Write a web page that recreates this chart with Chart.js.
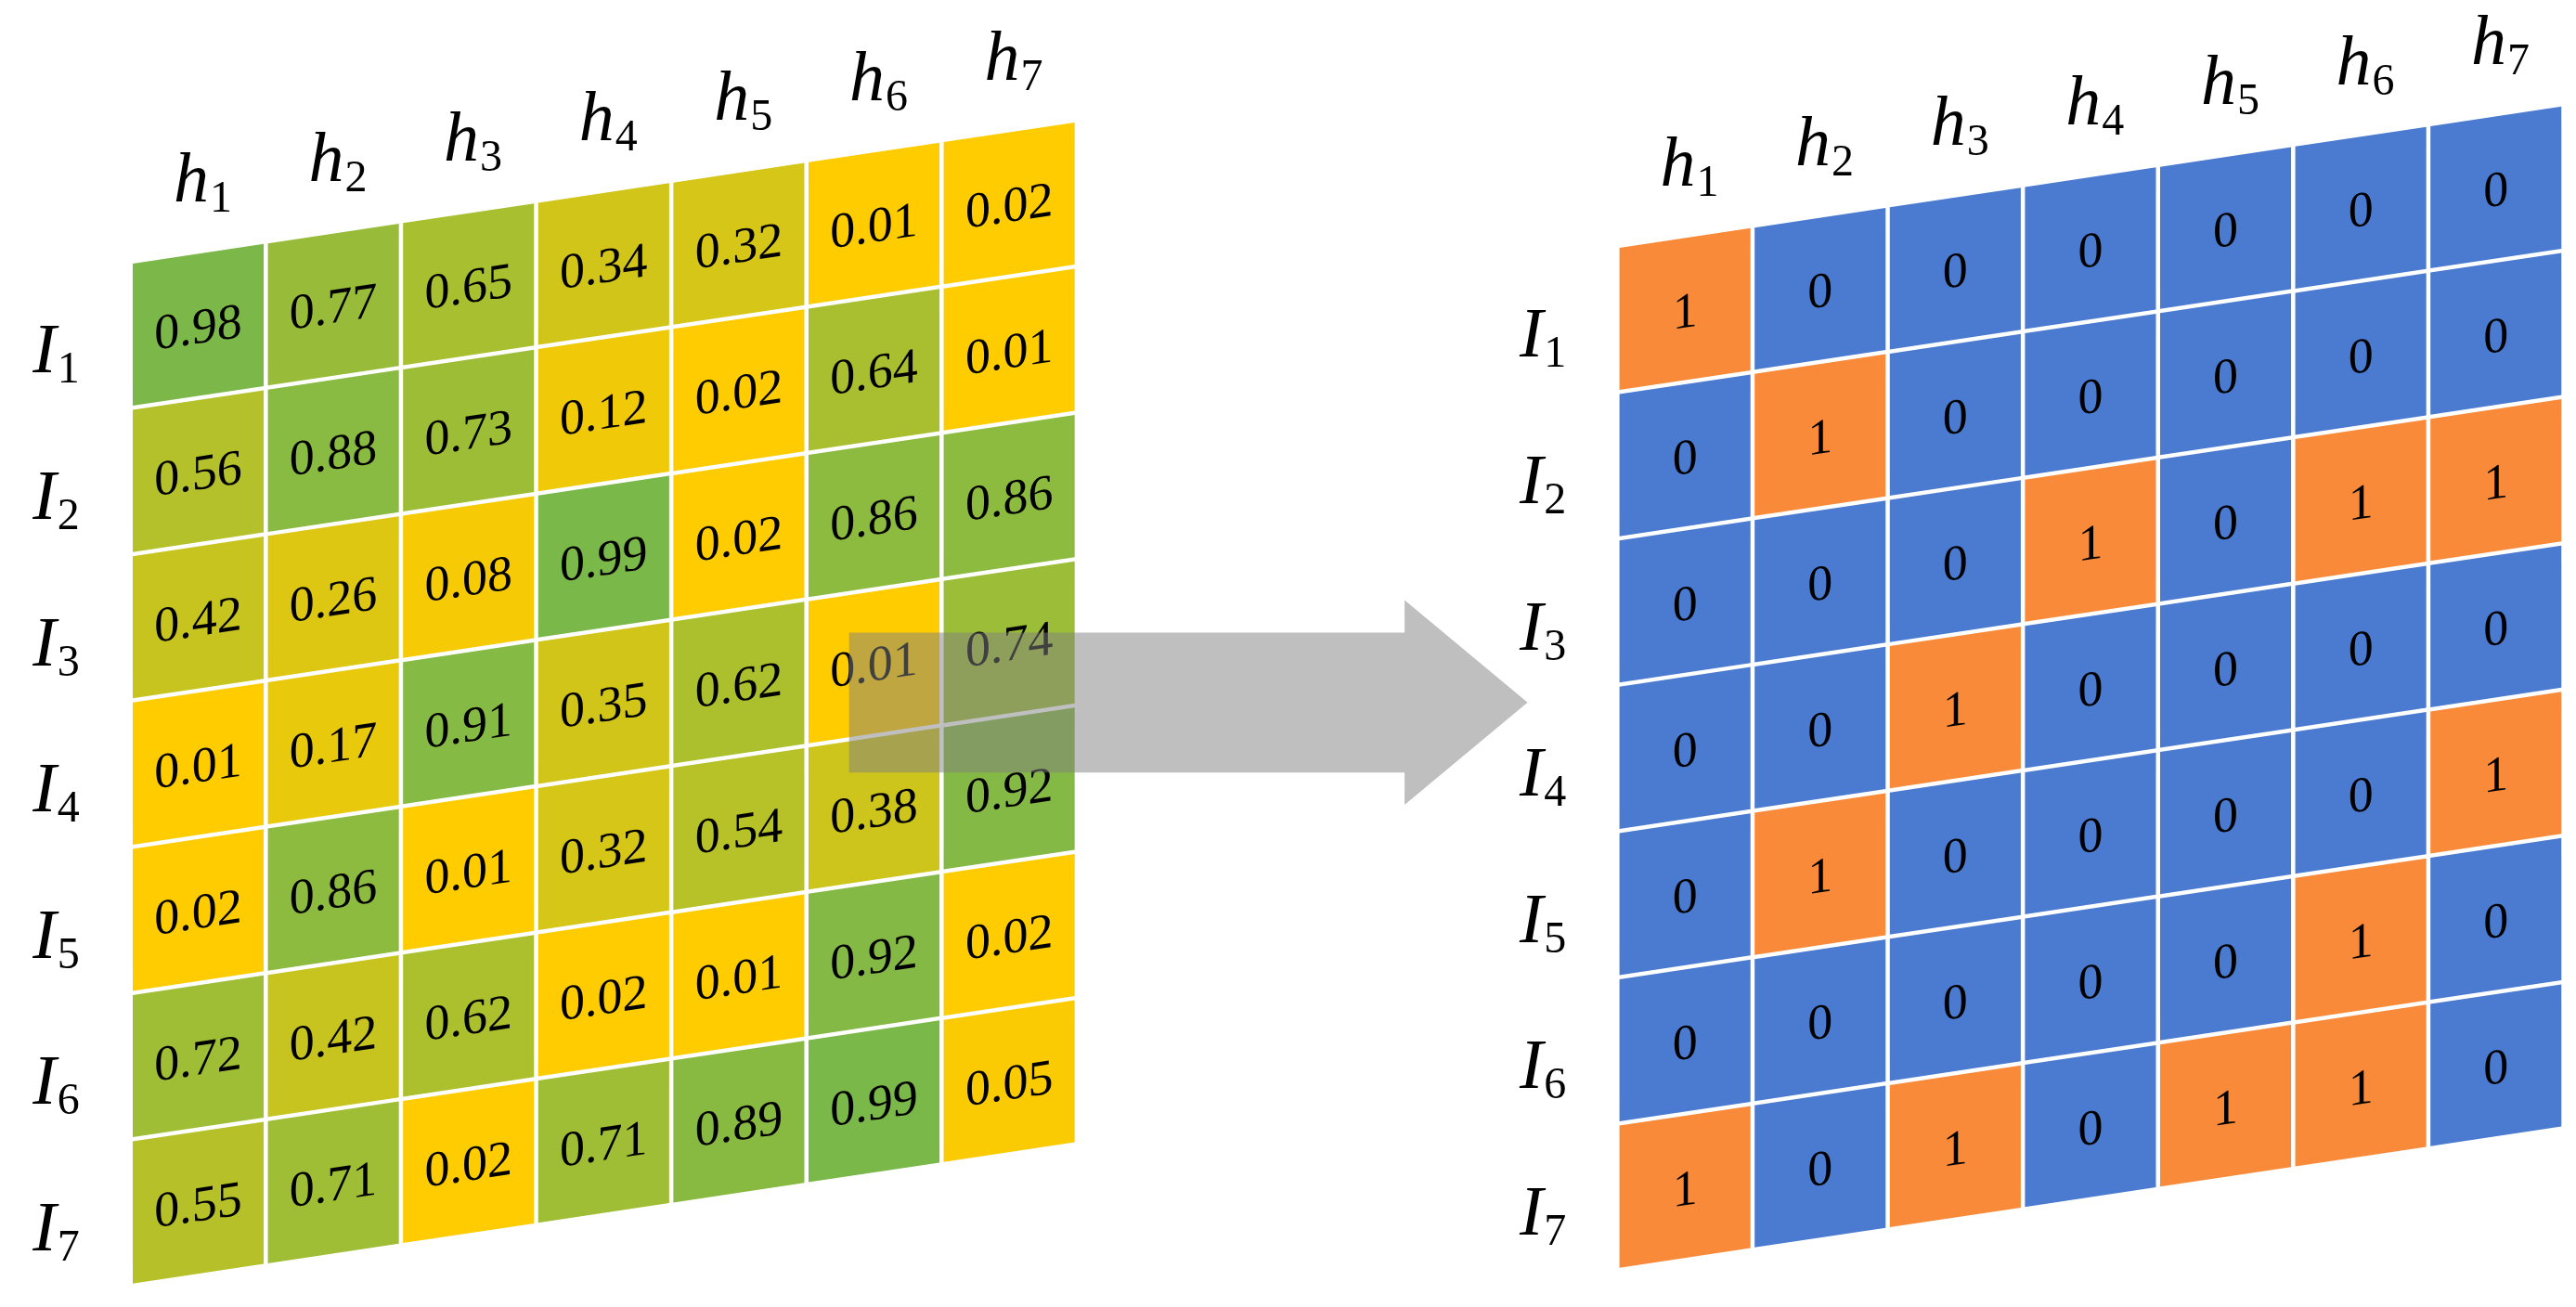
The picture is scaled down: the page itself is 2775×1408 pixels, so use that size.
<!DOCTYPE html>
<html>
<head>
<meta charset="utf-8">
<script src="https://cdn.jsdelivr.net/npm/chart.js@4.4.0/dist/chart.umd.min.js"></script>
<style>
  html, body { margin: 0; padding: 0; background: #fff; }
  #wrap { width: 2775px; height: 1408px; }
</style>
</head>
<body>
<div id="wrap"><canvas id="myChart"></canvas></div>
<script>
// column / row labels (h_j, I_i)
const colSubs = ['1', '2', '3', '4', '5', '6', '7'];
const rowSubs = ['1', '2', '3', '4', '5', '6', '7'];

// left matrix: scores, row by row
const scores = [
    [0.98, 0.77, 0.65, 0.34, 0.32, 0.01, 0.02],
    [0.56, 0.88, 0.73, 0.12, 0.02, 0.64, 0.01],
    [0.42, 0.26, 0.08, 0.99, 0.02, 0.86, 0.86],
    [0.01, 0.17, 0.91, 0.35, 0.62, 0.01, 0.74],
    [0.02, 0.86, 0.01, 0.32, 0.54, 0.38, 0.92],
    [0.72, 0.42, 0.62, 0.02, 0.01, 0.92, 0.02],
    [0.55, 0.71, 0.02, 0.71, 0.89, 0.99, 0.05]
];

// right matrix: 0 / 1
const binary = [
    [1, 0, 0, 0, 0, 0, 0],
    [0, 1, 0, 0, 0, 0, 0],
    [0, 0, 0, 1, 0, 1, 1],
    [0, 0, 1, 0, 0, 0, 0],
    [0, 1, 0, 0, 0, 0, 1],
    [0, 0, 0, 0, 0, 1, 0],
    [1, 0, 1, 0, 1, 1, 0]
];

const lowColor = [255, 204, 0];
const highColor = [122, 184, 74];
const binColors = ['#4B7BD0', '#F98A39'];

// layout, in cell units (x = columns, y = rows)
const SKEW = 0.1385;        // rows the grid rises per column
const GAP_X = 0.031;
const GAP_Y = 0.0285;
const leftGrid = {ox: 0, oy: 0};
const rightGrid = {ox: 11, oy: -0.108};
const arrow = {x0: 5.30, head: 9.41, tip: 10.32, yc: 3.0, shaft: 0.478, wing: 0.70};

const FONT = '"Liberation Serif", "Times New Roman", serif';

function scoreColor(v) {
    const t = (v - 0.01) / 0.98;
    const c = lowColor.map((lo, i) => Math.round(lo + (highColor[i] - lo) * t));
    return 'rgb(' + c.join(',') + ')';
}

function cellPoints(matrix, grid, colorOf, fmt) {
    const pts = [];
    matrix.forEach((row, r) => {
        row.forEach((v, c) => {
            const cx = c + (1 - GAP_X) / 2;
            pts.push({
                x: grid.ox + cx,
                y: grid.oy + r + (1 - GAP_Y) / 2 - SKEW * cx,
                v: v, col: c, row: r,
                color: colorOf(v), text: fmt(v)
            });
        });
    });
    return pts;
}

function drawLabel(ctx, px, py, main, sub) {
    ctx.save();
    ctx.fillStyle = '#000';
    ctx.textBaseline = 'alphabetic';
    ctx.textAlign = 'left';
    ctx.font = 'italic 76px ' + FONT;
    const w1 = ctx.measureText(main).width;
    ctx.font = '48px ' + FONT;
    const w2 = ctx.measureText(sub).width;
    const x0 = px - (w1 + w2) / 2;
    ctx.font = 'italic 76px ' + FONT;
    ctx.fillText(main, x0, py);
    ctx.font = '48px ' + FONT;
    ctx.fillText(sub, x0 + w1 + 1, py + 11);
    ctx.restore();
}

const skewGrid = {
    id: 'skewGrid',
    beforeDatasetsDraw(chart) {
        const ctx = chart.ctx;
        const xs = chart.scales.x, ys = chart.scales.y;
        const pxCol = xs.getPixelForValue(1) - xs.getPixelForValue(0);
        const pxRow = ys.getPixelForValue(1) - ys.getPixelForValue(0);
        const slope = -SKEW * pxRow / pxCol;
        const hw = (1 - GAP_X) / 2, hh = (1 - GAP_Y) / 2;

        chart.data.datasets.forEach(ds => {
            ds.data.forEach(p => {
                const corners = [
                    [p.x - hw, p.y - hh + SKEW * hw],
                    [p.x + hw, p.y - hh - SKEW * hw],
                    [p.x + hw, p.y + hh - SKEW * hw],
                    [p.x - hw, p.y + hh + SKEW * hw]
                ];
                ctx.beginPath();
                corners.forEach((k, i) => {
                    const px = xs.getPixelForValue(k[0]), py = ys.getPixelForValue(k[1]);
                    if (i === 0) ctx.moveTo(px, py); else ctx.lineTo(px, py);
                });
                ctx.closePath();
                ctx.fillStyle = p.color;
                ctx.fill();
            });
            // numbers in the cells, sheared along the grid
            ds.data.forEach(p => {
                ctx.save();
                ctx.translate(xs.getPixelForValue(p.x), ys.getPixelForValue(p.y + 0.035));
                ctx.transform(1, slope, 0, 1, 0, 0);
                ctx.font = '54px ' + FONT;
                ctx.fillStyle = '#000';
                ctx.textAlign = 'center';
                ctx.textBaseline = 'middle';
                ctx.fillText(p.text, 0, 0);
                ctx.restore();
            });
        });

        // h_j above and I_i left of each grid
        [leftGrid, rightGrid].forEach(g => {
            colSubs.forEach((s, c) => {
                const cx = c + (1 - GAP_X) / 2;
                drawLabel(ctx, xs.getPixelForValue(g.ox + cx + 0.03),
                    ys.getPixelForValue(g.oy - 0.36 - SKEW * cx), 'h', s);
            });
            rowSubs.forEach((s, r) => {
                const cx = -0.57;
                drawLabel(ctx, xs.getPixelForValue(g.ox + cx),
                    ys.getPixelForValue(g.oy + r + (1 - GAP_Y) / 2 - SKEW * cx + 0.18), 'I', s);
            });
        });
    },
    afterDatasetsDraw(chart) {
        // grey see-through arrow between the grids
        const ctx = chart.ctx;
        const xs = chart.scales.x, ys = chart.scales.y;
        const a = arrow;
        const pts = [
            [a.x0, a.yc - a.shaft], [a.head, a.yc - a.shaft], [a.head, a.yc - a.wing],
            [a.tip, a.yc], [a.head, a.yc + a.wing], [a.head, a.yc + a.shaft], [a.x0, a.yc + a.shaft]
        ];
        ctx.beginPath();
        pts.forEach((k, i) => {
            const px = xs.getPixelForValue(k[0]), py = ys.getPixelForValue(k[1]);
            if (i === 0) ctx.moveTo(px, py); else ctx.lineTo(px, py);
        });
        ctx.closePath();
        ctx.fillStyle = 'rgba(127,127,127,0.5)';
        ctx.fill();
    }
};

const ctx = document.getElementById('myChart');
const myChart = new Chart(ctx, {
    type: 'scatter',
    data: {
        datasets: [{
            label: 'scores',
            data: cellPoints(scores, leftGrid, scoreColor, v => v.toFixed(2)),
            pointRadius: 0,
            pointHoverRadius: 0
        }, {
            label: 'binary',
            data: cellPoints(binary, rightGrid, v => binColors[v], v => String(v)),
            pointRadius: 0,
            pointHoverRadius: 0
        }]
    },
    options: {
        responsive: true,
        maintainAspectRatio: false,
        animation: false,
        layout: {padding: 0},
        plugins: {
            legend: {display: false},
            tooltip: {enabled: false}
        },
        scales: {
            x: {type: 'linear', display: false, min: -0.982, max: 18.077},
            y: {type: 'linear', display: false, min: -1.802, max: 7.132, reverse: true}
        }
    },
    plugins: [skewGrid]
});
</script>
</body>
</html>
